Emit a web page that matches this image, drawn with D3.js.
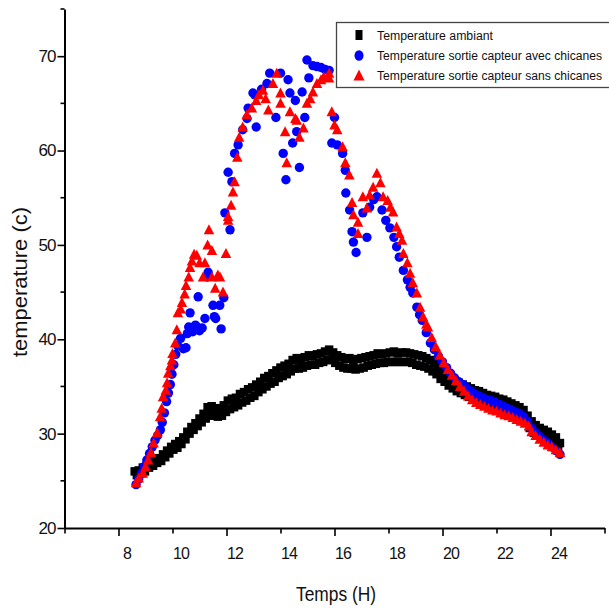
<!DOCTYPE html>
<html>
<head>
<meta charset="utf-8">
<script src="https://cdn.jsdelivr.net/npm/d3@7"></script>
<style>
  html, body { margin: 0; padding: 0; background: #fff; }
  svg { display: block; font-family: "Liberation Sans", Arial, sans-serif; }
</style>
</head>
<body>
<svg id="chart" width="609" height="615"></svg>
<script>
// ---------- data ----------
// ambient: upper edge of the band of squares ...
const ambientTime = [8.60,8.75,8.90,9.05,9.20,9.35,9.50,9.65,9.80,9.95,10.10,10.25,10.40,10.55,10.70,10.85,11.00,11.15,11.30,11.45,11.60,11.75,11.90,12.05,12.20,12.35,12.50,12.65,12.80,12.95,13.10,13.25,13.40,13.55,13.70,13.85,14.00,14.15,14.30,14.45,14.60,14.75,14.90,15.05,15.20,15.35,15.50,15.65,15.80,15.95,16.10,16.25,16.40,16.55,16.70,16.85,17.00,17.15,17.30,17.45,17.60,17.75,17.90,18.05,18.20,18.35,18.50,18.65,18.80,18.95,19.10,19.25,19.40,19.55,19.70,19.85,20.00,20.15,20.30,20.45,20.60,20.75,20.90,21.05,21.20,21.35,21.50,21.65,21.80,21.95,22.10,22.25,22.40,22.55,22.70,22.85,23.00,23.15,23.30,23.45,23.60,23.75,23.90,24.05,24.20,24.35];
const ambientTemp = [26.0,26.1,26.4,26.7,27.0,27.3,27.4,27.8,28.2,28.6,28.9,29.2,29.6,30.2,30.7,31.1,31.6,32.1,32.8,32.9,32.7,32.5,33.0,33.5,33.7,33.8,34.2,34.4,34.7,34.9,35.2,35.5,35.9,36.1,36.4,36.7,37.0,37.2,37.4,37.8,38.0,37.7,38.1,38.3,38.2,38.4,38.5,38.7,38.9,38.6,38.3,38.1,37.9,38.0,37.7,37.9,38.0,38.1,38.2,38.3,38.5,38.4,38.5,38.6,38.7,38.5,38.6,38.6,38.5,38.4,38.3,38.2,38.0,37.8,37.5,37.0,36.6,36.3,35.9,35.6,35.4,35.2,35.0,34.8,34.6,34.5,34.3,34.1,34.0,33.9,33.7,33.6,33.4,33.2,33.0,32.8,32.5,31.9,31.3,30.9,30.6,30.4,30.2,29.9,29.6,29.0];
// ... and lower edge of the same band
const ambientTimeLow = [8.68,8.83,8.98,9.13,9.28,9.43,9.58,9.73,9.88,10.03,10.18,10.33,10.48,10.63,10.78,10.93,11.08,11.23,11.38,11.53,11.68,11.83,11.98,12.13,12.28,12.43,12.58,12.73,12.88,13.03,13.18,13.33,13.48,13.63,13.78,13.93,14.08,14.23,14.38,14.53,14.68,14.83,14.98,15.13,15.28,15.43,15.58,15.73,15.88,16.03,16.18,16.33,16.48,16.63,16.78,16.93,17.08,17.23,17.38,17.53,17.68,17.83,17.98,18.13,18.28,18.43,18.58,18.73,18.88,19.03,19.18,19.33,19.48,19.63,19.78,19.93,20.08,20.23,20.38,20.53,20.68,20.83,20.98,21.13,21.28,21.43,21.58,21.73,21.88,22.03,22.18,22.33,22.48,22.63,22.78,22.93,23.08,23.23,23.38,23.53,23.68,23.83,23.98,24.13,24.28];
const ambientTempLow = [25.6,25.8,26.0,26.4,26.6,26.9,27.1,27.5,27.9,28.3,28.5,28.9,29.4,30.0,30.4,30.8,31.2,31.6,32.0,31.9,31.8,31.9,32.3,32.6,32.8,33.0,33.3,33.5,33.8,34.0,34.4,34.7,35.0,35.3,35.5,35.9,36.1,36.3,36.6,36.9,36.9,37.0,37.2,37.3,37.3,37.5,37.6,37.8,37.8,37.5,37.2,37.0,36.9,36.9,36.8,36.9,37.0,37.2,37.3,37.4,37.5,37.5,37.6,37.6,37.6,37.6,37.6,37.6,37.5,37.3,37.2,37.1,36.9,36.6,36.3,35.8,35.5,35.1,34.8,34.5,34.3,34.1,33.9,33.7,33.6,33.4,33.2,33.1,32.9,32.8,32.7,32.5,32.3,32.1,31.9,31.7,31.2,30.6,30.1,29.8,29.5,29.3,29.1,28.8,28.5];

const avecTime = [8.65,8.75,8.85,8.95,9.05,9.15,9.25,9.35,9.45,9.55,9.62,9.70,9.78,9.85,9.92,9.98,10.05,10.12,10.20,10.30,10.40,10.50,10.55,10.60,10.65,10.75,10.85,10.90,10.95,11.00,11.10,11.20,11.28,11.32,11.50,11.55,11.60,11.75,11.80,11.90,11.94,12.13,12.06,12.20,12.30,12.43,12.60,12.76,12.80,12.98,13.05,13.10,13.30,13.50,13.60,13.83,14.00,14.10,14.20,14.28,14.35,14.45,14.55,14.60,14.70,14.80,14.90,14.98,15.05,15.20,15.35,15.50,15.65,15.80,15.90,16.00,16.10,16.30,16.40,16.42,16.56,16.65,16.70,16.80,17.05,17.20,17.30,17.45,17.57,17.76,17.90,18.05,18.20,18.30,18.40,18.55,18.70,18.80,18.90,19.05,19.15,19.25,19.40,19.55,19.70,19.85,20.00,20.15,20.30,20.45,20.60,20.75,20.90,21.05,21.20,21.35,21.50,21.65,21.80,21.95,22.10,22.25,22.40,22.55,22.70,22.85,23.00,23.15,23.30,23.45,23.60,23.75,23.90,24.05,24.20,24.35];
const avecTemp = [24.6,25.2,25.8,26.5,27.2,27.9,28.6,29.3,29.8,30.4,31.2,32.2,33.4,34.3,35.2,36.3,37.3,38.4,39.3,40.1,39.0,39.1,40.6,41.3,42.8,40.8,41.5,41.3,44.5,40.9,41.2,42.2,46.6,47.1,43.6,42.4,42.2,43.6,41.1,44.4,53.4,51.6,57.7,56.7,59.7,60.6,62.2,63.4,64.5,66.1,65.9,62.5,66.5,67.1,68.2,63.5,68.2,59.7,56.9,67.5,66.1,60.8,65.3,62.0,58.2,66.2,63.5,69.6,67.7,69.0,68.9,68.8,68.6,68.5,60.8,63.5,60.6,59.7,57.9,55.5,53.7,51.4,50.3,49.2,53.4,50.8,54.0,54.8,55.1,53.7,52.6,51.8,50.8,49.8,48.7,47.3,46.3,45.5,44.9,43.4,42.6,42.0,40.7,39.6,38.9,38.2,37.6,37.0,36.4,35.9,35.5,35.2,34.8,34.5,34.2,34.0,33.8,33.6,33.5,33.3,33.1,32.9,32.7,32.5,32.3,32.1,31.8,31.3,30.6,30.1,29.7,29.3,29.0,28.6,28.2,27.8];

const sansTime = [8.65,8.75,8.90,9.00,9.10,9.20,9.30,9.43,9.54,9.60,9.65,9.75,9.80,9.84,9.92,9.98,10.00,10.10,10.16,10.20,10.30,10.35,10.45,10.50,10.60,10.65,10.72,10.80,10.90,11.00,11.13,11.20,11.30,11.35,11.46,11.46,11.58,11.68,11.76,11.87,11.98,12.06,12.06,12.17,12.24,12.30,12.40,12.47,12.60,12.75,12.94,13.10,13.20,13.35,13.45,13.55,13.72,13.86,14.00,14.00,14.17,14.23,14.35,14.55,14.60,14.70,14.85,14.98,15.10,15.20,15.35,15.50,15.60,15.80,15.80,15.90,16.00,16.10,16.30,16.40,16.55,16.65,16.70,16.87,16.87,17.05,17.20,17.30,17.43,17.57,17.70,17.80,17.97,18.07,18.17,18.30,18.40,18.50,18.55,18.70,18.80,18.90,19.05,19.17,19.28,19.40,19.46,19.60,19.75,19.90,20.05,20.20,20.35,20.50,20.65,20.80,20.95,21.10,21.25,21.40,21.55,21.70,21.85,22.00,22.15,22.30,22.45,22.60,22.75,22.90,23.05,23.20,23.30,23.45,23.60,23.75,23.90,24.05,24.20,24.35];
const sansTemp = [24.8,25.3,25.8,26.5,27.2,28.0,29.0,30.1,31.8,32.7,33.9,34.6,35.4,36.4,37.2,37.8,38.5,39.6,41.0,42.8,43.2,43.9,44.8,45.7,46.6,47.6,48.3,49.0,48.9,48.1,46.6,48.1,50.0,51.6,49.4,46.6,45.4,46.8,46.6,45.0,49.1,52.6,53.0,54.2,55.6,56.7,59.3,61.4,62.5,63.8,64.5,65.3,65.9,66.4,65.5,64.3,67.1,68.2,66.1,65.0,62.0,58.7,64.1,63.4,63.2,61.4,62.4,65.0,65.5,66.2,67.1,67.5,67.8,67.7,68.2,64.1,62.7,62.2,60.4,58.7,57.4,54.5,53.2,52.4,51.2,55.1,53.9,55.3,56.1,57.6,56.6,55.1,54.7,54.0,53.5,51.9,51.2,50.5,49.1,48.1,47.0,46.0,44.9,43.4,42.4,41.6,41.3,40.2,39.2,38.3,37.5,36.8,36.2,35.6,35.0,34.5,34.0,33.6,33.3,33.1,32.9,32.7,32.5,32.4,32.2,32.0,31.9,31.7,31.5,31.3,31.1,30.8,30.2,29.8,29.4,29.1,28.8,28.6,28.3,28.0];

const xTicks = [6,8,10,12,14,16,18,20,22,24,26];
const xLabelTicks = [8,10,12,14,16,18,20,22,24];
const xLongTicks = [8,12,16,20,24];
const yMajorTicks = [20,30,40,50,60,70];
const yMinorTicks = [25,35,45,55,65,75];
const legendLabels = ["Temperature ambiant","Temperature sortie capteur avec chicanes","Temperature sortie capteur sans chicanes"];
const seriesColors = ["#000000","#0000ff","#ff0000"];
const xTitle = "Temps (H)";
const yTitle = "temperature (c)";

// ---------- drawing ----------
const svg = d3.select("#chart");
const x = d3.scaleLinear().domain([6,26]).range([64.5,604.5]);
const y = d3.scaleLinear().domain([20,75]).range([528,9]);

const ambient = ambientTime.map((t,i)=>({t, v: ambientTemp[i]}))
  .concat(ambientTimeLow.map((t,i)=>({t, v: ambientTempLow[i]})));
const avec = avecTime.map((t,i)=>({t, v: avecTemp[i]}));
const sans = sansTime.map((t,i)=>({t, v: sansTemp[i]}));

const plot = svg.append("g");
const sq = 8.5;
plot.selectAll("rect.amb").data(ambient).enter().append("rect")
  .attr("class","amb")
  .attr("x", d=>x(d.t)-sq/2).attr("y", d=>y(d.v)-sq/2)
  .attr("width", sq).attr("height", sq).attr("fill", seriesColors[0]);

plot.selectAll("circle.avec").data(avec).enter().append("circle")
  .attr("class","avec")
  .attr("cx", d=>x(d.t)).attr("cy", d=>y(d.v)).attr("r", 4.7)
  .attr("fill", seriesColors[1]);

const tri = (cx, cy, w, h) => `M${cx-w/2},${cy+h*0.45}L${cx+w/2},${cy+h*0.45}L${cx},${cy-h*0.55}Z`;
plot.selectAll("path.sans").data(sans).enter().append("path")
  .attr("class","sans")
  .attr("d", d=>tri(x(d.t), y(d.v), 10.5, 10))
  .attr("fill", seriesColors[2]);

// axes
const axisColor = "#000";
const xAxis = d3.axisBottom(x).tickValues(xTicks).tickSizeOuter(0)
  .tickSize(0).tickFormat("");
const gx = svg.append("g").attr("transform","translate(0,528)").call(xAxis);
gx.select(".domain").attr("stroke", axisColor).attr("stroke-width", 2);
gx.selectAll(".tick line").remove();
gx.selectAll(".tick").append("line")
  .attr("y1", 0).attr("y2", d => xLongTicks.includes(d) ? 8 : 5.5)
  .attr("stroke", axisColor).attr("stroke-width", 1.6);
gx.selectAll(".tick").filter(d => xLabelTicks.includes(d)).append("text")
  .attr("x", 8).attr("y", 31)
  .attr("text-anchor","middle")
  .attr("fill","#111")
  .style("font-size","16px").style("letter-spacing","-1px")
  .text(d=>d);

const yAxis = d3.axisLeft(y).tickValues(yMajorTicks).tickSize(7).tickSizeOuter(0).tickPadding(2);
const gy = svg.append("g").attr("transform","translate(64.5,0)").call(yAxis);
gy.select(".domain").attr("stroke", axisColor).attr("stroke-width", 2);
gy.selectAll(".tick line").attr("stroke", axisColor).attr("stroke-width", 1.6);
gy.selectAll(".tick text").attr("fill","#111")
  .style("font-size","17px").style("letter-spacing","-1px");
gy.selectAll("line.minor").data(yMinorTicks).enter().append("line")
  .attr("class","minor")
  .attr("x1",-4).attr("x2",0).attr("y1",d=>y(d)).attr("y2",d=>y(d))
  .attr("stroke",axisColor).attr("stroke-width",1.6);
svg.selectAll("g").attr("font-family", null);

// axis titles
svg.append("text")
  .attr("x", 296).attr("y", 601)
  .attr("textLength", 80).attr("lengthAdjust","spacingAndGlyphs")
  .style("font-size","21px").attr("fill","#111")
  .text(xTitle);
svg.append("text")
  .attr("transform","translate(27,282) rotate(-90)")
  .attr("text-anchor","middle")
  .attr("textLength", 150).attr("lengthAdjust","spacingAndGlyphs")
  .style("font-size","20px").attr("fill","#111")
  .text(yTitle);

// legend
const lg = svg.append("g");
lg.append("rect").attr("x",336.5).attr("y",22.5).attr("width",290).attr("height",65)
  .attr("fill","#fff").attr("stroke","#444").attr("stroke-width",1.3);
const rowY = [35, 55.5, 75.5];
const textLen = [116, 225, 225];
legendLabels.forEach((lab,i)=>{
  const cy = rowY[i], cx = 359;
  if (i===0) lg.append("rect").attr("x",cx-3.5).attr("y",cy-5).attr("width",7).attr("height",10).attr("fill",seriesColors[0]);
  if (i===1) lg.append("ellipse").attr("cx",cx).attr("cy",cy).attr("rx",4.5).attr("ry",5.3).attr("fill",seriesColors[1]);
  if (i===2) lg.append("path").attr("d",tri(cx,cy,11,11)).attr("fill",seriesColors[2]);
  lg.append("text").attr("x",377).attr("y",cy+4.5)
    .attr("textLength", textLen[i]).attr("lengthAdjust","spacingAndGlyphs")
    .style("font-size","12.5px").attr("fill","#111").text(lab);
});
</script>
</body>
</html>
